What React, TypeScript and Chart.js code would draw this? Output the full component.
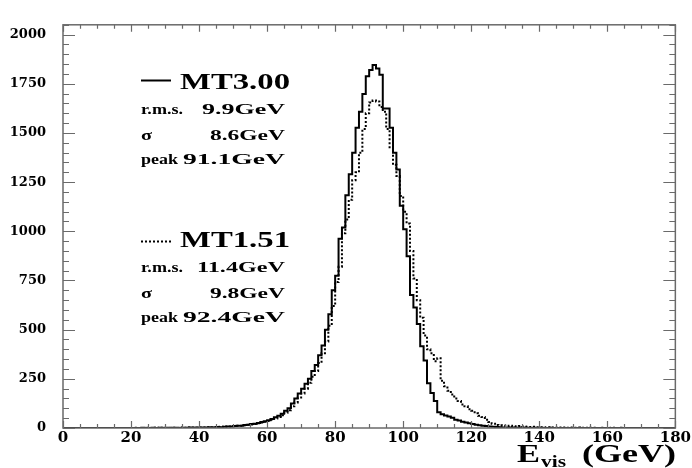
import React, { useEffect, useRef } from 'react';
import { Chart, registerables } from 'chart.js';

Chart.register(...registerables);

// Bin contents, 1 GeV bins from 0 to 180 GeV (index = lower bin edge)
const mt300: number[] = [
  0, 0, 0, 0, 0, 0, 0, 0, 0, 0,
  0, 0, 0, 0, 0, 0, 0, 0, 0, 0,
  0, 0, 0, 1, 0, 0, 1, 0, 1, 0,
  1, 0, 1, 1, 0, 1, 1, 2, 1, 2,
  2, 3, 2, 4, 3, 5, 4, 6, 7, 8,
  10, 12, 11, 15, 17, 20, 22, 26, 30, 34,
  40, 46, 55, 62, 72, 88, 100, 125, 150, 175,
  200, 225, 250, 290, 320, 370, 420, 500, 578, 700,
  774, 962, 1020, 1183, 1290, 1400, 1526, 1608, 1698, 1788,
  1820, 1845, 1828, 1796, 1625, 1625, 1526, 1400, 1314, 1130,
  1011, 873, 676, 613, 529, 416, 343, 227, 178, 137,
  80, 70, 64, 58, 52, 42, 38, 32, 28, 24,
  20, 17, 14, 12, 10, 8, 6, 5, 4, 3,
  3, 2, 2, 1, 2, 1, 1, 0, 1, 0,
  1, 0, 0, 1, 0, 0, 0, 0, 0, 0,
  0, 0, 0, 0, 0, 0, 0, 0, 0, 0,
  0, 0, 0, 0, 0, 0, 0, 0, 0, 0,
  0, 0, 0, 0, 0, 0, 0, 0, 0, 0,
];

const mt151: number[] = [
  0, 0, 0, 0, 0, 0, 0, 0, 0, 0,
  0, 0, 0, 0, 0, 0, 0, 0, 0, 0,
  0, 1, 0, 0, 1, 0, 0, 1, 0, 1,
  0, 1, 1, 0, 2, 1, 1, 2, 2, 1,
  3, 2, 4, 3, 5, 4, 6, 5, 7, 8,
  9, 11, 12, 14, 16, 18, 20, 24, 28, 32,
  36, 42, 48, 56, 65, 78, 90, 110, 130, 155,
  175, 200, 230, 260, 290, 330, 380, 440, 520, 620,
  742, 820, 990, 1060, 1160, 1260, 1300, 1400, 1520, 1600,
  1655, 1665, 1660, 1632, 1608, 1520, 1428, 1338, 1281, 1180,
  1100, 1040, 900, 760, 650, 560, 470, 400, 380, 340,
  355, 240, 212, 190, 170, 150, 137, 120, 110, 95,
  88, 75, 62, 56, 42, 31, 22, 15, 14, 12,
  10, 12, 9, 8, 10, 7, 6, 5, 6, 4,
  4, 3, 4, 2, 3, 2, 2, 3, 1, 2,
  1, 2, 1, 1, 0, 1, 1, 0, 1, 0,
  0, 1, 0, 0, 1, 0, 0, 0, 0, 0,
  0, 0, 0, 0, 0, 0, 0, 0, 0, 0,
];

const seriesNames = ['MT3.00', 'MT1.51'];
const rmsValues = ['9.9GeV', '11.4GeV'];
const sigmaValues = ['8.6GeV', '9.8GeV'];
const peakValues = ['91.1GeV', '92.4GeV'];

const xTickValues = [0, 20, 40, 60, 80, 100, 120, 140, 160, 180];
const yTickValues = [0, 250, 500, 750, 1000, 1250, 1500, 1750, 2000];

const X_MIN = 0;
const X_MAX = 180;
const Y_MIN = 0;
const Y_MAX = 2050;
const X_MINOR_STEP = 5;
const Y_MINOR_STEP = 50;

const SERIF = '"Liberation Serif", "Times New Roman", serif';

function toSteps(vals: number[]) {
  const pts = vals.map((v, i) => ({ x: X_MIN + i, y: v }));
  pts.push({ x: X_MIN + vals.length, y: vals[vals.length - 1] });
  return pts;
}

function fitText(
  ctx: CanvasRenderingContext2D,
  text: string,
  x: number,
  baseline: number,
  size: number,
  width: number
) {
  ctx.save();
  ctx.font = `bold ${size}px ${SERIF}`;
  ctx.textAlign = 'left';
  ctx.textBaseline = 'alphabetic';
  const w = ctx.measureText(text).width || 1;
  ctx.translate(x, baseline);
  ctx.scale(width / w, 1);
  ctx.fillStyle = '#000';
  ctx.fillText(text, 0, 0);
  ctx.restore();
}

const framePlugin = {
  id: 'frameAndNotes',
  afterDraw(chart: any) {
    const { ctx, chartArea: a, scales } = chart;
    const xs = scales.x;
    const ys = scales.y;
    ctx.save();
    ctx.strokeStyle = '#6a6a6a';
    ctx.lineWidth = 1.5;
    ctx.strokeRect(a.left, a.top, a.right - a.left, a.bottom - a.top);
    ctx.lineWidth = 1.2;
    ctx.beginPath();
    for (let v = X_MIN; v <= X_MAX; v += X_MINOR_STEP) {
      const px = Math.round(xs.getPixelForValue(v)) + 0.5;
      const len = xTickValues.includes(v) ? 7 : 4;
      ctx.moveTo(px, a.bottom);
      ctx.lineTo(px, a.bottom - len);
      ctx.moveTo(px, a.top);
      ctx.lineTo(px, a.top + len);
    }
    for (let v = Y_MIN; v <= Y_MAX; v += Y_MINOR_STEP) {
      const py = Math.round(ys.getPixelForValue(v)) + 0.5;
      const len = yTickValues.includes(v) ? 12 : 6;
      ctx.moveTo(a.left, py);
      ctx.lineTo(a.left + len, py);
      ctx.moveTo(a.right, py);
      ctx.lineTo(a.right - len, py);
    }
    ctx.stroke();
    ctx.restore();

    // legend / statistics block
    ctx.save();
    ctx.strokeStyle = '#000';
    ctx.lineWidth = 2;
    ctx.beginPath();
    ctx.moveTo(141, 80.5);
    ctx.lineTo(171, 80.5);
    ctx.stroke();
    ctx.setLineDash([2, 2]);
    ctx.beginPath();
    ctx.moveTo(141, 241.5);
    ctx.lineTo(171, 241.5);
    ctx.stroke();
    ctx.restore();

    const blocks = [
      { top: 89, i: 0 },
      { top: 247, i: 1 },
    ];
    blocks.forEach(({ top, i }) => {
      fitText(ctx, seriesNames[i], 180, top, 23, 110);
      fitText(ctx, 'r.m.s.', 141, top + 25, 15, 42);
      const rw = rmsValues[i].length > 6 ? 88 : 83;
      fitText(ctx, rmsValues[i], 285 - rw, top + 25, 15.5, rw);
      fitText(ctx, 'σ', 141, top + 50.5, 15, 11);
      fitText(ctx, sigmaValues[i], 210, top + 50.5, 15.5, 75);
      fitText(ctx, 'peak', 141, top + 75, 15, 37);
      fitText(ctx, peakValues[i], 183, top + 75, 15.5, 102);
    });

    // axis title E_vis (GeV)
    fitText(ctx, 'E', 517, 462, 26, 23);
    fitText(ctx, 'vis', 541, 467, 17, 25);
    fitText(ctx, '(GeV)', 582, 462, 26, 94);
  },
};

export default function App() {
  const ref = useRef<HTMLCanvasElement | null>(null);
  useEffect(() => {
    if (!ref.current) return;
    const chart = new Chart(ref.current, {
      type: 'line',
      data: {
        datasets: [
          {
            label: seriesNames[0],
            data: toSteps(mt300),
            stepped: 'before',
            borderColor: '#000',
            borderWidth: 2,
            pointRadius: 0,
            fill: false,
          },
          {
            label: seriesNames[1],
            data: toSteps(mt151),
            stepped: 'before',
            borderColor: '#000',
            borderWidth: 2,
            borderDash: [2, 2],
            pointRadius: 0,
            fill: false,
          },
        ],
      },
      options: {
        animation: false,
        responsive: false,
        devicePixelRatio: 1,
        layout: { padding: { top: 10, right: 15, left: 0, bottom: 0 } },
        plugins: { legend: { display: false }, tooltip: { enabled: false } },
        scales: {
          x: {
            type: 'linear',
            min: X_MIN,
            max: X_MAX,
            grid: { display: false, drawTicks: false },
            border: { display: false },
            afterBuildTicks: (s: any) => {
              s.ticks = xTickValues.map((v) => ({ value: v }));
            },
            ticks: {
              maxRotation: 0,
              autoSkip: false,
              padding: 1,
              color: '#000',
              font: { family: '"DejaVu Serif", serif', weight: 'bold', size: 15 },
            },
            afterFit: (s: any) => {
              s.height = 40;
            },
          },
          y: {
            type: 'linear',
            min: Y_MIN,
            max: Y_MAX,
            grid: { display: false, drawTicks: false },
            border: { display: false },
            afterBuildTicks: (s: any) => {
              s.ticks = yTickValues.map((v) => ({ value: v }));
            },
            ticks: {
              autoSkip: false,
              padding: 17,
              color: '#000',
              font: { family: '"DejaVu Serif", serif', weight: 'bold', size: 13 },
              callback: (v: any) => String(v),
            },
            afterFit: (s: any) => {
              s.width = 63;
            },
          },
        },
      } as any,
      plugins: [framePlugin],
    });
    return () => chart.destroy();
  }, []);
  return (
    <div style={{ position: 'absolute', left: 0, top: 0, width: 692, height: 468, background: '#fff' }}>
      <canvas ref={ref} width={692} height={468} style={{ display: 'block' }} />
    </div>
  );
}
